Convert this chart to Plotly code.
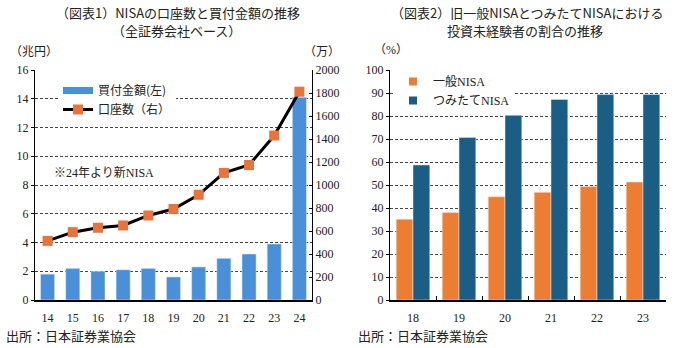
import plotly.graph_objects as go

# ---- data ----
years_left = ["14", "15", "16", "17", "18", "19", "20", "21", "22", "23", "24"]
buy_amount = [1.8, 2.2, 2.0, 2.1, 2.2, 1.6, 2.3, 2.9, 3.2, 3.9, 14.1]          # 兆円
accounts = [514, 590, 628, 648, 735, 791, 915, 1105, 1174, 1430, 1811]        # 万

years_right = ["18", "19", "20", "21", "22", "23"]
general_nisa = [35.1, 38.0, 44.9, 46.8, 49.3, 51.3]
tsumitate_nisa = [58.7, 70.7, 80.3, 87.2, 89.4, 89.4]

left_ticks = [0, 2, 4, 6, 8, 10, 12, 14, 16]
right_ticks = [0, 200, 400, 600, 800, 1000, 1200, 1400, 1600, 1800, 2000]
pct_ticks = [0, 10, 20, 30, 40, 50, 60, 70, 80, 90, 100]

BLUE = "#4A90D9"
ORANGE_M = "#E8743B"
ORANGE = "#ED7D31"
NAVY = "#1B5E85"
GRID = "#444444"
NUMFONT = "Liberation Serif, Noto Sans CJK JP"
JPFONT = "Noto Sans CJK JP"

W, H = 680, 348
ytop, ybot = 70, 300
ydom = [(H - ybot) / H, (H - ytop) / H]

fig = go.Figure()

# left chart
fig.add_trace(go.Bar(x=years_left, y=buy_amount, marker_color=BLUE, width=0.56,
                     xaxis="x", yaxis="y", showlegend=False))
fig.add_trace(go.Scatter(x=years_left, y=accounts, mode="lines+markers",
                         line=dict(color="black", width=3),
                         marker=dict(symbol="square", size=10, color=ORANGE_M),
                         xaxis="x", yaxis="y2", showlegend=False))
# legend proxies (left)
fig.add_trace(go.Scatter(x=[None], y=[None], mode="lines", name="買付金額(左)",
                         line=dict(color=BLUE, width=7), xaxis="x", yaxis="y", legend="legend"))
fig.add_trace(go.Scatter(x=[None], y=[None], mode="lines+markers", name="口座数（右）",
                         line=dict(color="black", width=3),
                         marker=dict(symbol="square", size=10, color=ORANGE_M),
                         xaxis="x", yaxis="y", legend="legend"))

# right chart
fig.add_trace(go.Bar(x=years_right, y=general_nisa, marker_color=ORANGE, width=0.365, offset=-0.365,
                     xaxis="x3", yaxis="y3", showlegend=False))
fig.add_trace(go.Bar(x=years_right, y=tsumitate_nisa, marker_color=NAVY, width=0.365, offset=0,
                     xaxis="x3", yaxis="y3", showlegend=False))
fig.add_trace(go.Scatter(x=[None], y=[None], mode="markers", name="一般NISA",
                         marker=dict(symbol="square", size=8, color=ORANGE),
                         xaxis="x3", yaxis="y3", legend="legend2"))
fig.add_trace(go.Scatter(x=[None], y=[None], mode="markers", name="つみたてNISA",
                         marker=dict(symbol="square", size=8, color=NAVY),
                         xaxis="x3", yaxis="y3", legend="legend2"))

tickfont = dict(family=NUMFONT, size=12, color="#222")

fig.update_layout(
    width=W, height=H, margin=dict(l=0, r=0, t=0, b=0, autoexpand=False),
    paper_bgcolor="white", plot_bgcolor="white",
    barmode="overlay",
    xaxis=dict(domain=[35 / W, 312 / W], anchor="y", type="category", automargin=False,
               range=[-0.5, 10.5], showline=True, linecolor="black", linewidth=1.5,
               ticks="", tickfont=tickfont, showgrid=False, ticklabelstandoff=6),
    yaxis=dict(domain=ydom, anchor="x", range=[0, 16], tickvals=left_ticks, automargin=False,
               showline=True, linecolor="black", linewidth=1,
               ticks="outside", ticklen=3, tickcolor="black",
               showgrid=True, gridcolor=GRID, gridwidth=1, griddash="3px,2px",
               tickfont=tickfont, zeroline=False),
    yaxis2=dict(overlaying="y", side="right", anchor="x", range=[0, 2000], tickvals=right_ticks,
                automargin=False, showline=True, linecolor="black", linewidth=1,
                ticks="inside", ticklen=3, tickcolor="black",
                showgrid=False, tickfont=tickfont, zeroline=False),
    xaxis3=dict(domain=[390 / W, 666 / W], anchor="y3", type="category", automargin=False,
                range=[-0.5, 5.5], showline=True, linecolor="black", linewidth=1.5,
                ticks="inside", tickson="boundaries", ticklen=4, tickcolor="black",
                tickfont=tickfont, showgrid=False, ticklabelstandoff=6),
    yaxis3=dict(domain=ydom, anchor="x3", range=[0, 100], tickvals=pct_ticks, automargin=False,
                showline=True, linecolor="black", linewidth=1,
                ticks="outside", ticklen=3, tickcolor="black",
                showgrid=True, gridcolor=GRID, gridwidth=1, griddash="3px,2px",
                tickfont=tickfont, zeroline=False),
    legend=dict(x=58 / W, y=1 - 76 / H, xanchor="left", yanchor="top",
                bgcolor="white", font=dict(family=JPFONT, size=12, color="#222"),
                itemwidth=30, tracegroupgap=0),
    legend2=dict(x=393 / W, y=1 - 67 / H, xanchor="left", yanchor="top",
                 bgcolor="white", font=dict(family=NUMFONT, size=12, color="#222"),
                 itemwidth=30, tracegroupgap=0),
)

def txt(x, y, s, size=12, family=JPFONT, xanchor="center", color="#222", yanchor="middle"):
    fig.add_annotation(x=x / W, y=1 - y / H, xref="paper", yref="paper", text=s,
                       showarrow=False, xanchor=xanchor, yanchor=yanchor, align="center",
                       font=dict(family=family, size=size, color=color))

# titles
txt(178, 12.5, "（図表1）NISAの口座数と買付金額の推移", size=13)
txt(176, 31, "（全証券会社ベース）", size=13)
txt(527, 12.5, "（図表2）旧一般NISAとつみたてNISAにおける", size=13)
txt(525, 31, "投資未経験者の割合の推移", size=13)
# units
txt(8, 50, "（兆円）", size=12, xanchor="left")
txt(302, 50, "（万）", size=12, xanchor="left")
txt(372, 50, "（%）", size=12, xanchor="left", family=NUMFONT)
# note
txt(52, 173, "※24年より新NISA", size=12, xanchor="left", family=NUMFONT)
# sources
txt(4, 335, "出所：日本証券業協会", size=13, xanchor="left")
txt(356, 335, "出所：日本証券業協会", size=13, xanchor="left")

fig.write_html("out.html")
